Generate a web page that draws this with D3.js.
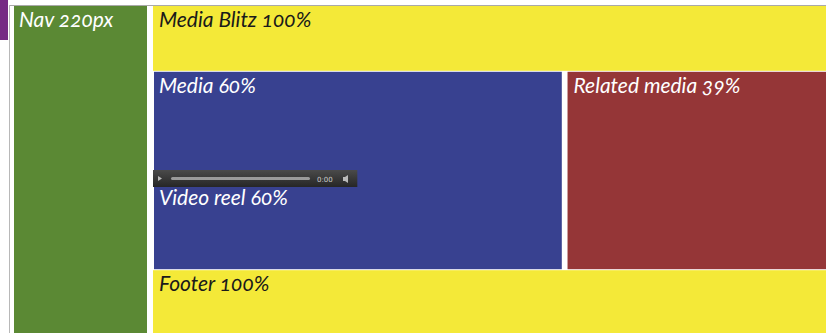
<!DOCTYPE html>
<html><head><meta charset="utf-8">
<script src="https://cdn.jsdelivr.net/npm/d3@7"></script>
<style>
html,body{margin:0;padding:0;background:#fff;overflow:hidden}
text.lbl{font-family:Lato,"Open Sans",sans-serif;font-style:italic;font-size:21px;font-variant-numeric:oldstyle-nums;font-feature-settings:"onum" 1}
</style></head><body>
<svg id="c" width="826" height="333"></svg>
<script>
// Layout regions (label, percent of content width, row)
const regionLabels = ["Media Blitz 100%", "Media 60%", "Related media 39%", "Footer 100%"];
const regionPct = [100, 60, 39, 100];
const regionRow = [0, 1, 1, 2];
const regionColors = ["#f4e938", "#384190", "#953637", "#f4e938"];
const navLabel = "Nav 220px";
const navPx = 220;
const videoLabel = "Video reel 60%";
const videoPct = 60;
const rowWeights = [65, 199, 64];

const svg = d3.select("#c");
const W = 826, H = 333;
const topY = 6;
const contentX0 = 153;

// x scale in percent of content width
const x = d3.scaleLinear().domain([0, 100]).range([contentX0, contentX0 + 673]);
// nav px scale
const xNav = d3.scaleLinear().domain([0, navPx]).range([14, 147]);
// rows
const cum = [0]; rowWeights.forEach((w,i)=>cum.push(cum[i]+w));
const y = d3.scaleLinear().domain([0, cum[cum.length-1]]).range([topY, topY + 327]);

// purple tab
svg.append("rect").attr("x",0).attr("y",0).attr("width",8).attr("height",40).attr("fill","#762a84");
// grey top border and left line
svg.append("rect").attr("x",9).attr("y",topY-1).attr("width",W-9).attr("height",1).attr("fill","#a9a9a9");
svg.append("rect").attr("x",9).attr("y",topY-1).attr("width",1).attr("height",H).attr("fill","#b8b8b8");

// nav
svg.append("rect").attr("x",xNav(0)).attr("y",topY).attr("width",xNav(navPx)-xNav(0)).attr("height",H-topY).attr("fill","#5b8934");
svg.append("text").attr("class","lbl").attr("x",xNav(0)+5).attr("y",topY+21).attr("fill","#fff").text(navLabel);

// regions
let offset = {};
regionLabels.forEach((lab,i)=>{
  const r = regionRow[i];
  const o = offset[r] || 0;
  const x0 = x(o) + (o>0 ? 4 : 0);
  const x1 = x(o + regionPct[i]) + (o>0 ? 8 : 4);
  const y0 = y(cum[r]) + (r>0?1:0), y1 = y(cum[r+1]);
  offset[r] = o + regionPct[i] + 1;
  svg.append("rect").attr("x",x0 + (r===1 && o===0 ? 1 : 0)).attr("y",y0).attr("width",Math.min(x1,W)-x0).attr("height",y1-y0).attr("fill",regionColors[i]);
  const dark = regionColors[i]==="#f4e938";
  svg.append("text").attr("class","lbl").attr("x",x0+6).attr("y",y0+21).attr("fill",dark?"#1a1a1a":"#fff").text(lab);
});

// video control bar
const vy = 170;
const vx0 = x(0), vx1 = x(videoPct*0.506);
const g = svg.append("g");
const grad = svg.append("defs").append("linearGradient").attr("id","vg").attr("x1",0).attr("x2",0).attr("y1",0).attr("y2",1);
grad.append("stop").attr("offset","0%").attr("stop-color","#4a4a4a");
grad.append("stop").attr("offset","100%").attr("stop-color","#262626");
g.append("rect").attr("x",vx0).attr("y",vy).attr("width",vx1-vx0).attr("height",17).attr("fill","url(#vg)");
g.append("path").attr("d",`M${vx0+5},${vy+6}L${vx0+9},${vy+8.5}L${vx0+5},${vy+11}Z`).attr("fill","#bbb");
g.append("rect").attr("x",vx0+18).attr("y",vy+7).attr("width",139).attr("height",3).attr("rx",1.5).attr("fill","#9a9a9a");
g.append("text").attr("x",vx0+164).attr("y",vy+11.5).attr("font-family","DejaVu Sans").attr("font-size",7).attr("fill","#cfcfcf").text("0:00");
g.append("path").attr("d",`M${vx0+190},${vy+7}h2l3,-2v8l-3,-2h-2Z`).attr("fill","#bbb");
svg.append("text").attr("class","lbl").attr("x",vx0+6).attr("y",vy+35).attr("fill","#fff").text(videoLabel);
</script></body></html>
